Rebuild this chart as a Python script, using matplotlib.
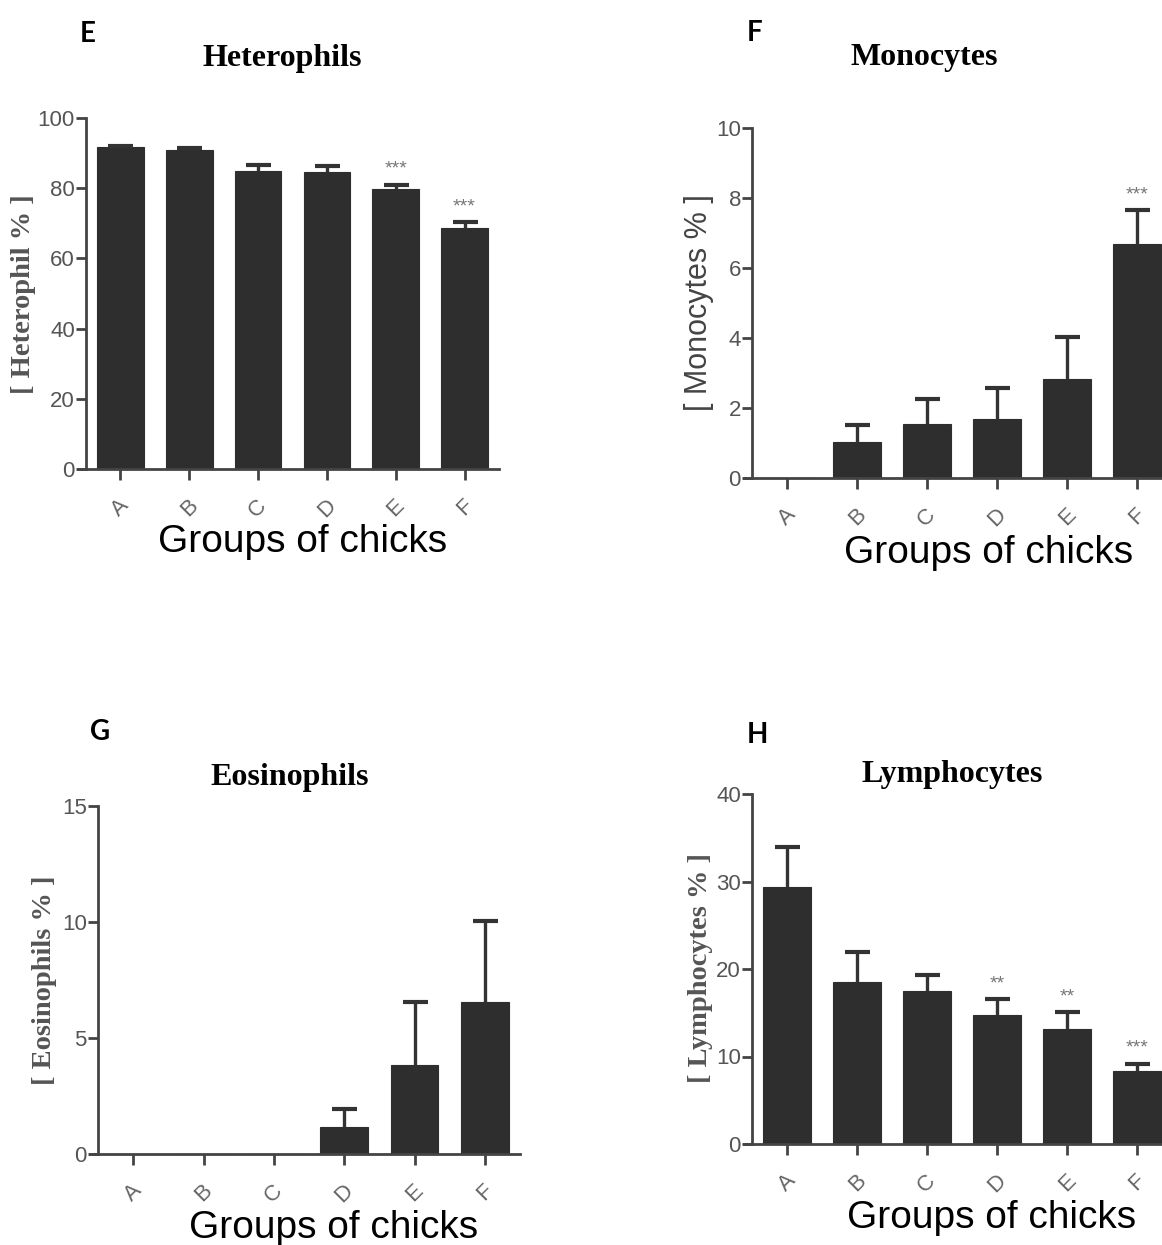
import matplotlib
matplotlib.use("Agg")
import matplotlib.pyplot as plt
import numpy as np

W, H = 1162, 1245
groups = ["A", "B", "C", "D", "E", "F"]

hetero_vals = [91.6, 90.8, 84.8, 84.5, 79.7, 68.6]
hetero_err = [0.5, 0.6, 1.9, 1.8, 1.3, 1.8]
hetero_sig = ["", "", "", "", "***", "***"]

mono_vals = [0.0, 1.02, 1.53, 1.68, 2.84, 6.68]
mono_err = [0.0, 0.48, 0.72, 0.9, 1.18, 0.97]
mono_sig = ["", "", "", "", "", "***"]

eosi_vals = [0.0, 0.0, 0.0, 1.16, 3.83, 6.55]
eosi_err = [0.0, 0.0, 0.0, 0.77, 2.72, 3.5]
eosi_sig = ["", "", "", "", "", ""]

lymph_vals = [29.4, 18.5, 17.5, 14.7, 13.1, 8.4]
lymph_err = [4.6, 3.4, 1.8, 1.9, 2.0, 0.8]
lymph_sig = ["", "", "", "**", "**", "***"]

BAR = "#2e2e2e"
AX = "#444444"
TICK_TXT = "#555555"

fig = plt.figure(figsize=(W / 100, H / 100), dpi=100)


def px_axes(left, right, y0, ytop):
    return fig.add_axes([left / W, 1 - y0 / H, (right - left) / W, (y0 - ytop) / H])


def ftext(x, y, s, **kw):
    fig.text(x / W, 1 - y / H, s, **kw)


def panel(rect, vals, errs, sigs, ymax, yticks, letter, letter_xy, title, title_xy,
          ylabel, ylabel_xy, ylabel_serif, xlabel_xy):
    ax = px_axes(*rect)
    x = np.arange(len(groups))
    ax.bar(x, vals, width=0.68, color=BAR, edgecolor=BAR, linewidth=0.8, zorder=2)
    errx = [i for i in x if errs[i] > 0]
    eb = ax.errorbar([x[i] for i in errx], [vals[i] for i in errx],
                     yerr=[[0] * len(errx), [errs[i] for i in errx]],
                     fmt="none", ecolor="#333333", elinewidth=2.4, capsize=9,
                     capthick=3.0, zorder=3)
    caplines = eb[1]
    if len(caplines) == 2:
        caplines[0].set_visible(False)
    for i, s in enumerate(sigs):
        if s:
            ax.annotate(s, (x[i], vals[i] + errs[i]), xytext=(0, 11),
                        textcoords="offset points", ha="center", va="center",
                        fontsize=14, color="#777777", family="Liberation Sans")
    ax.set_xlim(-0.5, 5.5)
    ax.set_ylim(0, ymax)
    ax.set_yticks(yticks)
    ax.set_yticklabels([str(t) for t in yticks], fontsize=16, color=TICK_TXT,
                       family="Liberation Sans")
    ax.set_xticks(x)
    ax.set_xticklabels(groups, rotation=45, fontsize=16, color="#666666",
                       family="Liberation Sans")
    for sp in ["top", "right"]:
        ax.spines[sp].set_visible(False)
    for sp in ["left", "bottom"]:
        ax.spines[sp].set_color(AX)
        ax.spines[sp].set_linewidth(2.0)
    ax.tick_params(axis="y", length=7, width=2, color=AX, pad=1)
    ax.tick_params(axis="x", length=8, width=2, color=AX, pad=11)
    ax.spines["bottom"].set_bounds(-0.62, 5.5)
    ax.patch.set_alpha(0)

    ftext(*letter_xy, letter, fontsize=20, family="Lato", weight="bold",
          ha="left", va="baseline")
    ftext(*title_xy, title, fontsize=23, family="Liberation Serif", weight="bold",
          ha="center", va="baseline")
    if ylabel_serif:
        ftext(*ylabel_xy, ylabel, fontsize=20.5, family="Liberation Serif", weight="bold",
              color="#555555", rotation=90, ha="center", va="center")
    else:
        ftext(*ylabel_xy, ylabel, fontsize=22, family="Liberation Sans",
              color="#444444", rotation=90, ha="center", va="center")
    ftext(*xlabel_xy, "Groups of chicks", fontsize=28, family="Liberation Sans",
          ha="center", va="baseline")
    return ax


panel((86, 499, 469, 118), hetero_vals, hetero_err, hetero_sig, 100,
      [0, 20, 40, 60, 80, 100], "E", (80, 42), "Heterophils", (282, 66),
      "[ Heterophil % ]", (24, 294), True, (303, 552))

panel((752, 1172, 478, 128), mono_vals, mono_err, mono_sig, 10,
      [0, 2, 4, 6, 8, 10], "F", (747, 41), "Monocytes", (924, 65),
      "[ Monocytes % ]", (699, 303), False, (989, 563))

panel((98, 520, 1154, 806), eosi_vals, eosi_err, eosi_sig, 15,
      [0, 5, 10, 15], "G", (90, 740), "Eosinophils", (290, 785),
      "[ Eosinophils % ]", (45, 980), True, (334, 1238))

panel((752, 1172, 1144, 794), lymph_vals, lymph_err, lymph_sig, 40,
      [0, 10, 20, 30, 40], "H", (747, 743), "Lymphocytes", (952, 782),
      "[ Lymphocytes % ]", (700, 968), True, (992, 1228))

fig.savefig("out.png", dpi=100)
